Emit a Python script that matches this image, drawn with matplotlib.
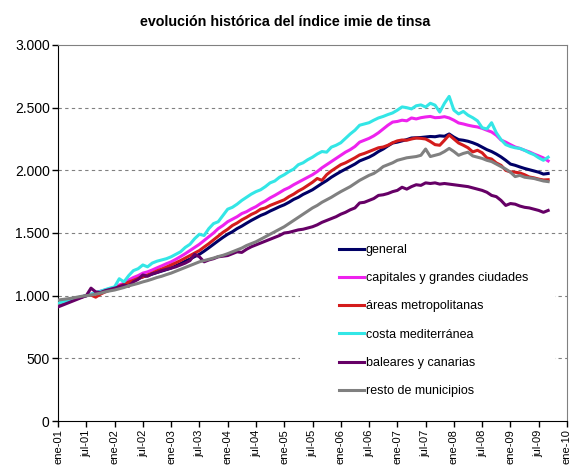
import numpy as np
import matplotlib
matplotlib.use("Agg")
import matplotlib.pyplot as plt
from matplotlib.patches import Rectangle

plt.rcParams['font.family'] = ['Liberation Sans', 'DejaVu Sans']

# indice mensual, ene-01 .. sep-09
general = [
    930, 942, 955, 966, 978, 990,
    1000, 1008, 1018, 1030, 1040, 1050,
    1060, 1075, 1090, 1105, 1120, 1135,
    1150, 1160, 1172, 1185, 1196, 1208,
    1220, 1238, 1255, 1275, 1292, 1312,
    1330, 1355, 1382, 1410, 1438, 1465,
    1490, 1510, 1535, 1555, 1578, 1600,
    1620, 1640, 1655, 1675, 1692, 1710,
    1725, 1745, 1768, 1785, 1808, 1826,
    1845, 1870, 1895, 1918, 1945, 1968,
    1990, 2010, 2030, 2050, 2075, 2090,
    2105, 2125, 2150, 2170, 2195, 2218,
    2225, 2235, 2245, 2258, 2260, 2262,
    2266, 2270, 2268, 2275, 2272, 2290,
    2265, 2245, 2240, 2232, 2220, 2205,
    2185, 2165, 2150, 2130, 2107, 2080,
    2050, 2040, 2027, 2015, 2005, 1995,
    1985, 1970, 1975]

capitales = [
    925, 940, 952, 965, 978, 990,
    1000, 1012, 1020, 1035, 1045, 1055,
    1065, 1085, 1100, 1125, 1145, 1160,
    1180, 1190, 1205, 1222, 1238, 1255,
    1270, 1290, 1312, 1335, 1360, 1385,
    1410, 1440, 1470, 1500, 1535, 1560,
    1590, 1610, 1630, 1655, 1670, 1692,
    1710, 1735, 1755, 1780, 1800, 1822,
    1845, 1862, 1885, 1905, 1925, 1945,
    1965, 1990, 2020, 2045, 2070, 2095,
    2120, 2145, 2165, 2190, 2225, 2240,
    2255, 2275, 2300, 2330, 2360, 2385,
    2390, 2400, 2395, 2418, 2410, 2420,
    2426, 2430, 2420, 2422, 2428, 2418,
    2400, 2378, 2370, 2360, 2352, 2346,
    2335, 2320, 2306, 2280, 2242, 2225,
    2205, 2186, 2175, 2160, 2147, 2130,
    2115, 2099, 2075]

areas = [
    935, 945, 958, 968, 980, 990,
    1000, 1005, 988, 1012, 1030, 1045,
    1060, 1075, 1090, 1108, 1122, 1138,
    1150, 1165, 1180, 1198, 1212, 1228,
    1245, 1262, 1280, 1300, 1320, 1340,
    1360, 1388, 1415, 1445, 1475, 1505,
    1530, 1560, 1580, 1605, 1625, 1648,
    1665, 1690, 1700, 1720, 1735, 1750,
    1765, 1790, 1810, 1835, 1855, 1880,
    1905, 1935, 1920, 1965, 1995, 2020,
    2045, 2060, 2080, 2100, 2123, 2135,
    2150, 2165, 2180, 2186, 2200, 2220,
    2235, 2242, 2240, 2250, 2258, 2255,
    2250, 2230, 2205, 2200, 2240, 2282,
    2250, 2218, 2200, 2180, 2147, 2160,
    2140, 2099, 2090, 2059, 2040, 2000,
    1987, 1985, 1979, 1965, 1947, 1940,
    1930, 1923, 1925]

costa = [
    940, 950, 960, 972, 982, 992,
    1000, 1012, 1025, 1035, 1048, 1060,
    1070, 1135, 1110, 1160, 1200, 1215,
    1245, 1230, 1260, 1275, 1285, 1295,
    1310, 1330, 1350, 1385, 1410, 1455,
    1490, 1480, 1535, 1575, 1590, 1640,
    1690, 1705, 1730, 1760, 1785, 1810,
    1830, 1845, 1870, 1900, 1915, 1945,
    1965, 1990, 2010, 2045, 2060, 2085,
    2105, 2130, 2150, 2145, 2185, 2200,
    2220, 2255, 2290, 2320, 2360, 2370,
    2380, 2400, 2418, 2430, 2445, 2458,
    2480, 2506, 2500, 2490, 2515, 2522,
    2505, 2535, 2520, 2465, 2535, 2590,
    2480, 2450, 2470, 2440, 2420, 2395,
    2340, 2330, 2380, 2300, 2245, 2205,
    2190, 2180, 2175, 2160, 2140, 2125,
    2100, 2080, 2105]

baleares = [
    910, 925, 940, 955, 970, 985,
    1000, 1060, 1030, 1025, 1040, 1050,
    1060, 1070, 1085, 1075, 1110, 1130,
    1165, 1155, 1175, 1185, 1200, 1210,
    1220, 1230, 1245, 1260, 1280, 1330,
    1310, 1270, 1285, 1295, 1310, 1315,
    1320, 1335, 1350, 1345, 1370, 1390,
    1405, 1420, 1435, 1450, 1465, 1480,
    1500, 1505, 1515, 1525, 1530, 1540,
    1550, 1565, 1585, 1600, 1615, 1630,
    1650, 1665, 1685, 1700, 1740, 1745,
    1760, 1775, 1800, 1805, 1815, 1830,
    1840, 1865, 1850, 1870, 1885, 1880,
    1900, 1895, 1900, 1890, 1895, 1890,
    1885, 1880, 1875, 1870, 1860, 1850,
    1840, 1825, 1800, 1790, 1760, 1720,
    1735, 1730, 1715, 1705, 1700, 1690,
    1680, 1665, 1680]

resto = [
    965, 970, 975, 980, 988, 995,
    1000, 1005, 1012, 1020, 1030, 1038,
    1045, 1055, 1065, 1078, 1088, 1098,
    1110, 1120, 1132, 1145, 1155, 1168,
    1180, 1195, 1210, 1225, 1240, 1255,
    1270, 1280, 1290, 1300, 1312, 1322,
    1335, 1350, 1365, 1380, 1400, 1415,
    1430, 1450, 1470, 1490, 1510, 1530,
    1550, 1575, 1600, 1625, 1650, 1675,
    1700, 1720, 1745, 1765, 1785, 1808,
    1830, 1850, 1870, 1895, 1920, 1940,
    1960, 1975, 2000, 2030, 2045, 2060,
    2080, 2090, 2100, 2105, 2110, 2120,
    2170, 2110, 2120, 2130, 2150, 2175,
    2150, 2120, 2135, 2145, 2115, 2105,
    2095, 2080, 2070, 2050, 2030, 2010,
    1985, 1950, 1960, 1945, 1940, 1935,
    1925, 1915, 1910]

series_names = ["general", "capitales y grandes ciudades", u"áreas metropolitanas",
                u"costa mediterránea", "baleares y canarias", "resto de municipios"]
colors = ["#000066", "#ee22ee", "#d41c1c", "#33e6e6", "#660066", "#808080"]

xtick_labels = ["ene-01", "jul-01", "ene-02", "jul-02", "ene-03", "jul-03", "ene-04",
                "jul-04", "ene-05", "jul-05", "ene-06", "jul-06", "ene-07", "jul-07",
                "ene-08", "jul-08", "ene-09", "jul-09", "ene-10"]
yticks = [0, 500, 1000, 1500, 2000, 2500, 3000]
ytick_labels = ["0", "500", "1.000", "1.500", "2.000", "2.500", "3.000"]

fig = plt.figure(figsize=(5.81, 4.69), dpi=100)
ax = fig.add_axes([58/581, 1-421/469, 509/581, 376/469])

months = np.arange(len(general))
for data, name, c in zip([general, capitales, areas, costa, baleares, resto], series_names, colors):
    ax.plot(months, data, color=c, linewidth=2.2, label=name, solid_joinstyle='round', zorder=3)

ax.set_xlim(0, 108)
ax.set_ylim(0, 3000)
ax.set_xticks(np.arange(0, 109, 6))
ax.set_xticklabels(xtick_labels, rotation=90, fontsize=8)
ax.set_yticks(yticks)
ax.set_yticklabels(ytick_labels, fontsize=10)
ax.tick_params(axis='both', direction='out', length=4, width=1, pad=2, color='black')

for v in yticks[1:-1]:
    ax.axhline(v, color='#808080', linestyle=(0, (3, 3)), linewidth=0.8, zorder=0)

ax.spines['left'].set_color('black')
ax.spines['bottom'].set_color('black')
ax.spines['top'].set_color('#808080')
ax.spines['right'].set_color('#808080')

# caja blanca de la leyenda (tapa las lineas de rejilla)
ax.add_patch(Rectangle(((300-58)/509, (421-400)/376), 255/509, 163/376,
                       transform=ax.transAxes, facecolor='white', edgecolor='none', zorder=1))

leg = ax.legend(loc='upper left', bbox_to_anchor=((339-58)/509, (421-244)/376), frameon=False,
                fontsize=9, handlelength=2.0, handletextpad=0.15, labelspacing=1.3,
                borderpad=0, borderaxespad=0)
leg.set_zorder(5)

fig.text(0.49, 1-22/469, u"evolución histórica del índice imie de tinsa",
         ha='center', va='center', fontsize=10.3, fontweight='bold')

fig.savefig("out.png", dpi=100)
